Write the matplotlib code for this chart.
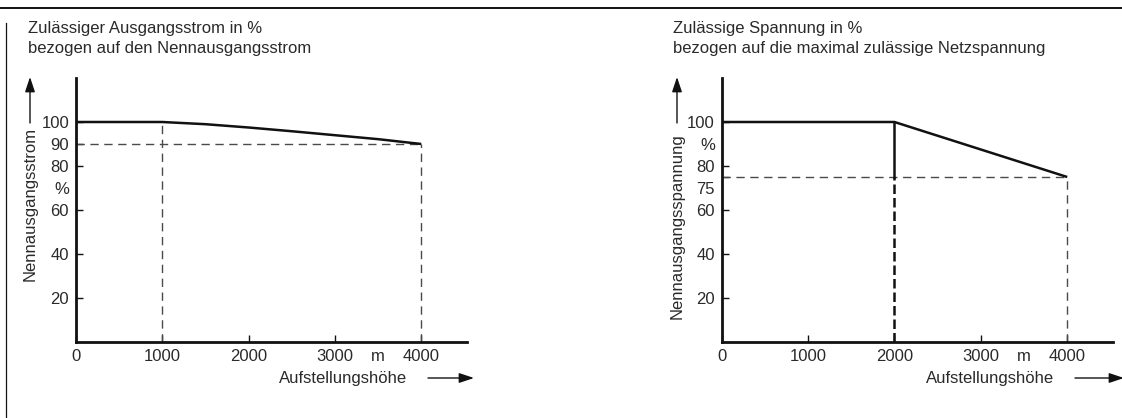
"""Derating curves: permissible output current and voltage vs. installation altitude."""
import matplotlib

matplotlib.use("Agg")
import matplotlib.pyplot as plt
from matplotlib.lines import Line2D
from matplotlib.patches import FancyArrowPatch
from matplotlib.transforms import ScaledTranslation

plt.rcParams["font.family"] = ["Liberation Sans", "DejaVu Sans"]

W, H = 1122, 418
INK = "#111111"
TXT = "#2a2a2a"
DASH = "#4a4a4a"
FS = 12

# left chart: output current
alt_i = [0, 1000, 1500, 2000, 2500, 3000, 3500, 4000]
cur_pct = [100, 100, 99, 97.5, 95.8, 94, 92.2, 90]
yticks_i = [20, 40, 60, 80, 90, 100]

# right chart: voltage
alt_u = [0, 2000, 4000]
volt_pct = [100, 100, 75]
yticks_u = [20, 40, 60, 75, 80, 100]

xticks = [0, 1000, 2000, 3000, 4000]
xlabels = ["0", "1000", "2000", "3000", "4000"]


def fx(px):
    return px / W


def fy(py):
    return 1 - py / H


def setup(ax, yticks, pct_pos):
    ax.set_xlim(0, 4530)
    ax.set_ylim(0, 120)
    for s in ("top", "right"):
        ax.spines[s].set_visible(False)
    for s in ("left", "bottom"):
        ax.spines[s].set_linewidth(2.0)
        ax.spines[s].set_color(INK)
    ax.set_xticks(xticks, xlabels)
    ax.set_yticks(yticks, [str(v) for v in yticks])
    ax.set_xticks([3500], ["m"], minor=True)
    ax.set_yticks([pct_pos], ["%"], minor=True)
    ax.tick_params(which="major", direction="in", length=5, width=1.0, color=INK,
                   labelsize=FS, labelcolor=TXT)
    ax.tick_params(which="minor", length=0, labelsize=FS, labelcolor=TXT)
    ax.tick_params(axis="y", which="both", pad=5)
    ax.tick_params(axis="x", which="both", pad=5)
    ax.patch.set_alpha(0)


fig = plt.figure(figsize=(W / 100, H / 100), dpi=100, facecolor="white")

# left panel
ax1 = fig.add_axes([fx(76), fy(342), fx(391), 264 / H])
setup(ax1, yticks_i, 70)
ax1.plot(alt_i, cur_pct, color=INK, lw=1.8, solid_capstyle="butt", zorder=3)
ax1.plot([0, 4000], [90, 90], color=DASH, lw=1.0, ls=(0, (6, 4)), zorder=2)
ax1.plot([1000, 1000], [0, 100], color=DASH, lw=1.0, ls=(0, (6, 4)), zorder=2)
ax1.plot([4000, 4000], [0, 90], color=DASH, lw=1.0, ls=(0, (6, 4)), zorder=2)

# right panel
ax2 = fig.add_axes([fx(721.7), fy(342), fx(391.3), 264 / H])
setup(ax2, yticks_u, 90)
ax2.plot(alt_u, volt_pct, color=INK, lw=1.8, solid_capstyle="butt", zorder=3)
ax2.plot([2000, 2000], [75, 100], color=INK, lw=1.8, zorder=3)
ax2.plot([2000, 2000], [0, 75], color=INK, lw=1.8, ls=(0, (3.8, 1.6)), zorder=3)
ax2.plot([0, 4000], [75, 75], color=DASH, lw=1.0, ls=(0, (6, 4)), zorder=2)
ax2.plot([4000, 4000], [0, 75], color=DASH, lw=1.0, ls=(0, (6, 4)), zorder=2)

# the "75" label sits a little below its tick in the original, clear of "80"
for lab in ax2.get_yticklabels():
    if lab.get_text() == "75":
        lab.set_transform(lab.get_transform() + ScaledTranslation(0, -8 / 72, fig.dpi_scale_trans))

# titles
fig.text(fx(28), fy(28), "Zulässiger Ausgangsstrom in %", fontsize=FS, color=TXT, va="center")
fig.text(fx(28), fy(49), "bezogen auf den Nennausgangsstrom", fontsize=FS, color=TXT, va="center")
fig.text(fx(673), fy(28), "Zulässige Spannung in %", fontsize=FS, color=TXT, va="center")
fig.text(fx(673), fy(49), "bezogen auf die maximal zulässige Netzspannung", fontsize=FS,
         color=TXT, va="center")

# axis labels with arrows
fig.text(fx(30), fy(281), "Nennausgangsstrom", fontsize=FS, color=TXT,
         rotation=90, ha="center", va="bottom")
fig.text(fx(677), fy(319), "Nennausgangsspannung", fontsize=FS, color=TXT,
         rotation=90, ha="center", va="bottom")
fig.text(fx(343), fy(378), "Aufstellungshöhe", fontsize=FS, color=TXT, ha="center", va="center")
fig.text(fx(990), fy(378), "Aufstellungshöhe", fontsize=FS, color=TXT, ha="center", va="center")

for (x0, y0, x1, y1) in [(30, 123, 30, 77), (677, 123, 677, 77),
                         (428, 378, 474, 378), (1075, 378, 1124, 378)]:
    fig.patches.append(FancyArrowPatch(
        (fx(x0), fy(y0)), (fx(x1), fy(y1)), transform=fig.transFigure,
        arrowstyle="-|>,head_length=0.9,head_width=0.3", mutation_scale=10,
        color=INK, lw=1.0, shrinkA=0, shrinkB=0))

# page frame lines
fig.add_artist(Line2D([0, 1], [fy(7.5), fy(7.5)], color=INK, lw=1.4))
fig.add_artist(Line2D([fx(6), fx(6)], [fy(23), 0], color=INK, lw=0.9))

fig.savefig("out.png", dpi=100, facecolor="white")
